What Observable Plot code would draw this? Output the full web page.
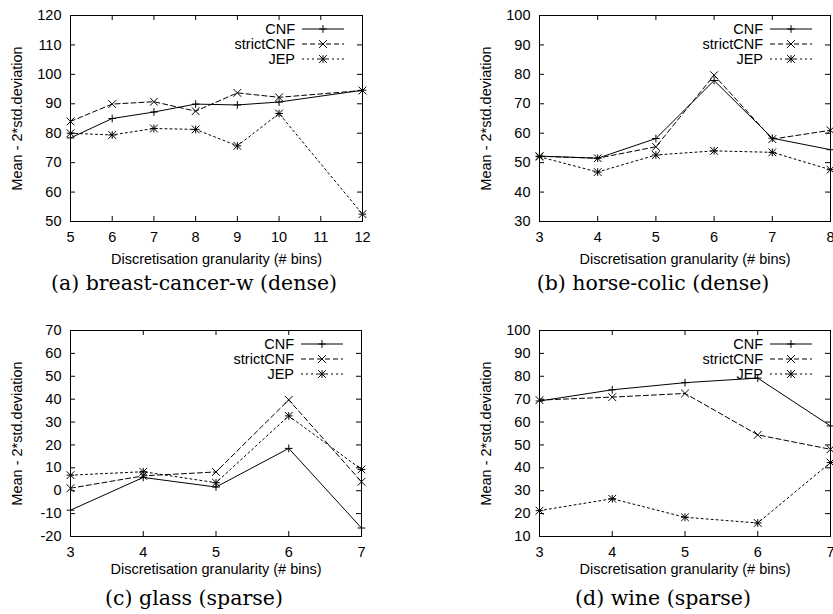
<!DOCTYPE html>
<html><head><meta charset="utf-8">
<script src="https://cdn.jsdelivr.net/npm/d3@7"></script>
<script src="https://cdn.jsdelivr.net/npm/@observablehq/plot@0.6"></script>
<style>
body{margin:0;background:#fff;width:833px;height:614px;position:relative;overflow:hidden}
.panel{position:absolute}
.cap{position:absolute;font-family:"DejaVu Serif",serif;font-size:20.5px;line-height:1;transform:translate(-50%,-50%);white-space:nowrap;color:#000}
svg{overflow:visible}
</style></head><body>
<script>
const seriesNames = ["CNF", "strictCNF", "JEP"];
const xLabel = "Discretisation granularity (# bins)";
const yLabel = "Mean - 2*std.deviation";

// (a) breast-cancer-w (dense)
const binsA = [5, 6, 7, 8, 9, 10, 12];
const cnfA = [78.4, 85.0, 87.2, 89.9, 89.6, 90.6, 94.6];
const strictA = [84.0, 89.9, 90.7, 87.5, 93.7, 92.2, 94.5];
const jepA = [80.0, 79.4, 81.6, 81.3, 75.7, 86.7, 52.5];
const xTicksA = [5, 6, 7, 8, 9, 10, 11, 12];
const yTicksA = [50, 60, 70, 80, 90, 100, 110, 120];

// (b) horse-colic (dense)
const binsB = [3, 4, 5, 6, 7, 8];
const cnfB = [52.2, 51.5, 58.2, 77.9, 58.3, 54.4];
const strictB = [52.2, 51.5, 55.4, 79.7, 58.0, 61.0];
const jepB = [52.0, 46.8, 52.6, 54.0, 53.5, 47.6];
const xTicksB = [3, 4, 5, 6, 7, 8];
const yTicksB = [30, 40, 50, 60, 70, 80, 90, 100];

// (c) glass (sparse)
const binsC = [3, 4, 5, 6, 7];
const cnfC = [-8.5, 5.8, 1.6, 18.5, -16.3];
const strictC = [1.1, 6.5, 8.2, 39.7, 3.9];
const jepC = [6.8, 8.3, 3.5, 32.7, 9.3];
const xTicksC = [3, 4, 5, 6, 7];
const yTicksC = [-20, -10, 0, 10, 20, 30, 40, 50, 60, 70];

// (d) wine (sparse)
const binsD = [3, 4, 5, 6, 7];
const cnfD = [69.2, 74.1, 77.2, 79.2, 58.3];
const strictD = [69.6, 70.9, 72.5, 54.4, 48.1];
const jepD = [21.3, 26.5, 18.4, 15.9, 42.3];
const xTicksD = [3, 4, 5, 6, 7];
const yTicksD = [10, 20, 30, 40, 50, 60, 70, 80, 90, 100];

const captions = ["(a) breast-cancer-w (dense)", "(b) horse-colic (dense)", "(c) glass (sparse)", "(d) wine (sparse)"];

const FONT = "'Liberation Sans', Arial, Helvetica, sans-serif";
const FS = 14.5;
const dashes = [null, "5,3", "2,3"];

function panel(o) {
  const {bins, series, xTicks, yTicks, left, top, mL, mR, mT, mB, W, H, xOff, cap} = o;
  const fw = W - mL - mR, fh = H - mT - mB;
  const rows = [];
  series.forEach((vals, si) => bins.forEach((b, i) => rows.push({s: seriesNames[si], x: b, y: vals[i]})));
  const marks = [];
  const TL = 5;
  marks.push(Plot.tickX(xTicks, {x: d => d, insetTop: fh - TL, stroke: "black"}));
  marks.push(Plot.tickX(xTicks, {x: d => d, insetBottom: fh - TL, stroke: "black"}));
  marks.push(Plot.tickY(yTicks, {y: d => d, insetRight: fw - TL, stroke: "black"}));
  marks.push(Plot.tickY(yTicks, {y: d => d, insetLeft: fw - TL, stroke: "black"}));
  seriesNames.forEach((name, si) => {
    const d = rows.filter(r => r.s === name);
    marks.push(Plot.line(d, {x: "x", y: "y", stroke: "black", strokeWidth: 1, strokeDasharray: dashes[si]}));
    if (si === 0 || si === 2) marks.push(Plot.dot(d, {x: "x", y: "y", symbol: "plus", r: 2.6, stroke: "black", strokeWidth: 1}));
    if (si === 1 || si === 2) marks.push(Plot.dot(d, {x: "x", y: "y", symbol: "times", r: 3.6, stroke: "black", strokeWidth: 1}));
  });
  marks.push(Plot.axisX({ticks: xTicks, tickSize: 0, tickPadding: 10, tickFormat: d => String(d), label: xLabel, labelAnchor: "center", labelOffset: xOff, labelArrow: "none"}));
  marks.push(Plot.axisY({ticks: yTicks, tickSize: 0, tickPadding: 9, tickFormat: d => String(d), label: yLabel, labelAnchor: "center", labelOffset: 59, labelArrow: "none"}));
  marks.push(Plot.frame({stroke: "black", strokeWidth: 1}));
  const svg = Plot.plot({
    width: W, height: H,
    marginLeft: mL, marginRight: mR, marginTop: mT, marginBottom: mB,
    x: {domain: [xTicks[0], xTicks[xTicks.length - 1]]},
    y: {domain: [yTicks[0], yTicks[yTicks.length - 1]]},
    style: {fontFamily: FONT, fontSize: FS + "px", color: "black", background: "transparent", overflow: "visible"},
    marks
  });
  // legend
  const g = d3.select(svg).append("g").attr("font-family", FONT).attr("font-size", FS).attr("fill", "black");
  const right = W - mR;
  seriesNames.forEach((name, i) => {
    const yy = mT + 14 + 15 * i;
    g.append("text").attr("x", right - 67).attr("y", yy).attr("dy", "0.35em").attr("text-anchor", "end").text(name);
    const ln = g.append("line").attr("x1", right - 60).attr("x2", right - 18).attr("y1", yy).attr("y2", yy).attr("stroke", "black").attr("stroke-width", 1);
    if (dashes[i]) ln.attr("stroke-dasharray", dashes[i]);
    const mx = right - 39;
    if (i === 0 || i === 2) g.append("path").attr("d", d3.symbol(d3.symbolPlus, Math.PI * 2.6 * 2.6)()).attr("transform", `translate(${mx},${yy})`).attr("stroke", "black").attr("fill", "none");
    if (i === 1 || i === 2) g.append("path").attr("d", d3.symbol(d3.symbolTimes, Math.PI * 3.6 * 3.6)()).attr("transform", `translate(${mx},${yy})`).attr("stroke", "black").attr("fill", "none");
  });
  const div = document.createElement("div");
  div.className = "panel";
  div.style.left = left + "px";
  div.style.top = top + "px";
  div.appendChild(svg);
  document.body.appendChild(div);
  const c = document.createElement("div");
  c.className = "cap";
  c.textContent = cap[0];
  c.style.left = cap[1] + "px";
  c.style.top = cap[2] + "px";
  document.body.appendChild(c);
}

panel({bins: binsA, series: [cnfA, strictA, jepA], xTicks: xTicksA, yTicks: yTicksA, left: 0, top: 0, W: 416, H: 270, mL: 70, mR: 54, mT: 15, mB: 49, xOff: 42, cap: [captions[0], 194, 283]});
panel({bins: binsB, series: [cnfB, strictB, jepB], xTicks: xTicksB, yTicks: yTicksB, left: 416, top: 0, W: 417, H: 270, mL: 123, mR: 3, mT: 15, mB: 49, xOff: 42, cap: [captions[1], 653, 283]});
panel({bins: binsC, series: [cnfC, strictC, jepC], xTicks: xTicksC, yTicks: yTicksC, left: 0, top: 307, W: 416, H: 270, mL: 70, mR: 55, mT: 23, mB: 41, xOff: 37, cap: [captions[2], 194, 598]});
panel({bins: binsD, series: [cnfD, strictD, jepD], xTicks: xTicksD, yTicks: yTicksD, left: 416, top: 307, W: 417, H: 270, mL: 123, mR: 3, mT: 23, mB: 41, xOff: 37, cap: [captions[3], 663, 598]});
</script>
</body></html>
